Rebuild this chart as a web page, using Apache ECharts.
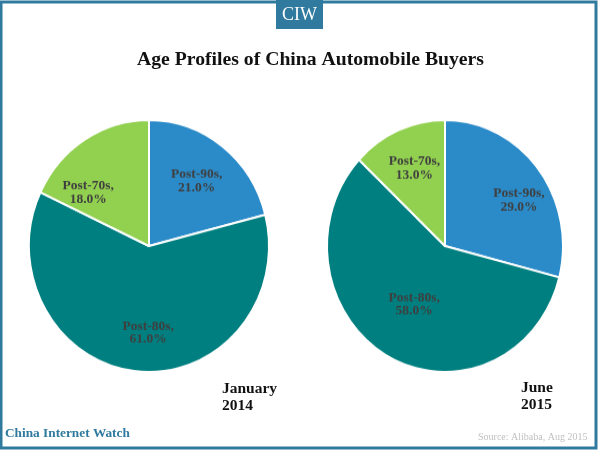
<!DOCTYPE html>
<html>
<head>
<meta charset="utf-8">
<title>Age Profiles of China Automobile Buyers</title>
<script src="https://cdn.jsdelivr.net/npm/echarts@6/dist/echarts.min.js"></script>
<style>
  html, body { margin: 0; padding: 0; background: #fff; }
  #wrap { position: relative; width: 600px; height: 450px; overflow: hidden; }
  #base, .pie { position: absolute; left: 0; top: 0; width: 600px; height: 450px; }
  /* the reference pies are slightly taller than wide */
  .pie { transform-origin: 0 246px; }
  #pie1 { transform: scaleY(1.05); }
  #pie2 { transform: scaleY(1.068); }
</style>
</head>
<body>
<div id="wrap">
  <div id="base"></div>
  <div id="pie1" class="pie"></div>
  <div id="pie2" class="pie"></div>
</div>
<script>
var categories = ['Post-90s', 'Post-80s', 'Post-70s'];
var jan2014 = [21.0, 61.0, 18.0];
var jun2015 = [29.0, 58.0, 13.0];
var colors = ['#2b8bc9', '#007f80', '#92d050'];
var serif = '"Liberation Serif", serif';
var frame = '#2f7a9e';

function drawPie(id, values, center, radius, offsets) {
  var chart = echarts.init(document.getElementById(id));
  chart.setOption({
    animation: false,
    color: colors,
    series: [{
      type: 'pie',
      center: center,
      radius: radius,
      startAngle: 90,
      clockwise: true,
      silent: true,
      itemStyle: { borderColor: '#fff', borderWidth: 2 },
      label: {
        show: true,
        position: 'inside',
        color: '#3f3f3f',
        fontFamily: serif,
        fontWeight: 'bold',
        fontSize: 13.5,
        lineHeight: 12.5,
        formatter: function (p) { return p.name + ',\n' + p.value.toFixed(1) + '%'; }
      },
      labelLine: { show: false },
      data: categories.map(function (name, i) {
        return { name: name, value: values[i], label: { offset: offsets[i] } };
      })
    }]
  });
}

var base = echarts.init(document.getElementById('base'));
base.setOption({
  animation: false,
  backgroundColor: '#fff',
  title: {
    text: 'Age Profiles of China Automobile Buyers',
    left: 305.5, top: 45, textAlign: 'center',
    textStyle: { fontFamily: serif, fontWeight: 'bold', fontSize: 19.7, color: '#111' }
  },
  graphic: [
    { type: 'rect', shape: { x: 1, y: 2, width: 595, height: 446 }, style: { fill: 'none', stroke: frame, lineWidth: 3 } },
    { type: 'rect', shape: { x: 276, y: 0, width: 47, height: 29 }, style: { fill: frame } },
    { type: 'text', x: 299.5, y: 15, style: { text: 'CIW', fill: '#fff', font: '18px ' + serif, textAlign: 'center', textVerticalAlign: 'middle' } },
    { type: 'text', x: 222, y: 381, style: { text: 'January\n2014', fill: '#111', font: 'bold 15.5px ' + serif, lineHeight: 16.5 } },
    { type: 'text', x: 521, y: 380, style: { text: 'June\n2015', fill: '#111', font: 'bold 15.5px ' + serif, lineHeight: 16.5 } },
    { type: 'text', x: 5, y: 427, style: { text: 'China Internet Watch', fill: '#2f7a9e', font: 'bold 13.3px ' + serif } },
    { type: 'text', x: 478, y: 432, style: { text: 'Source: Alibaba, Aug 2015', fill: '#c0c0c0', font: '10px ' + serif } }
  ]
});

drawPie('pie1', jan2014, [149, 246], 120, [[9, -12], [5, 20], [-27, 2]]);
drawPie('pie2', jun2015, [445, 246], 118, [[25, -5], [-1, 0], [-6, -16]]);
</script>
</body>
</html>
